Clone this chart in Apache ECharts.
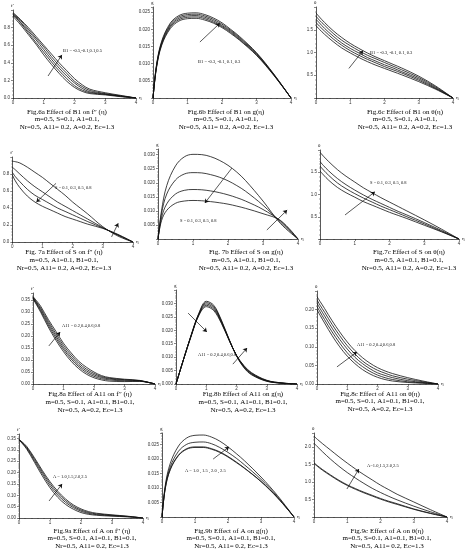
<!DOCTYPE html>
<html>
<head>
<meta charset="utf-8">
<script src="https://cdn.jsdelivr.net/npm/echarts@6/dist/echarts.min.js"></script>
<style>
  html, body { margin: 0; background: #fff; }
  #chart { width: 469px; height: 556px; }
</style>
</head>
<body>
<div id="chart"></div>
<script>
// similarity variable η, shared by every panel
const eta = [0, 0.1, 0.25, 0.5, 0.75, 1, 1.25, 1.5, 1.75, 2, 2.25, 2.5, 3, 3.5, 4];

// Fig 6 : effect of B1
const fig6a = [
  [0.97, 0.94, 0.89, 0.80, 0.70, 0.60, 0.50, 0.40, 0.31, 0.22, 0.15, 0.10, 0.06, 0.03, 0],
  [0.96, 0.93, 0.88, 0.78, 0.68, 0.58, 0.47, 0.37, 0.28, 0.19, 0.13, 0.085, 0.05, 0.025, 0],
  [0.95, 0.92, 0.86, 0.76, 0.66, 0.55, 0.44, 0.34, 0.25, 0.17, 0.11, 0.07, 0.045, 0.02, 0],
  [0.94, 0.91, 0.85, 0.74, 0.63, 0.52, 0.41, 0.31, 0.22, 0.14, 0.09, 0.06, 0.04, 0.02, 0],
  [0.93, 0.89, 0.83, 0.72, 0.61, 0.49, 0.38, 0.28, 0.19, 0.12, 0.075, 0.05, 0.035, 0.015, 0]
];
const fig6b = [
  [0, 0.0095, 0.0165, 0.0218, 0.0240, 0.0247, 0.0248, 0.0243, 0.0233, 0.0219, 0.0200, 0.0180, 0.0132, 0.0070, 0],
  [0, 0.0093, 0.0162, 0.0214, 0.0236, 0.0243, 0.0244, 0.0239, 0.0229, 0.0215, 0.0197, 0.0177, 0.0130, 0.0069, 0],
  [0, 0.0091, 0.0159, 0.0210, 0.0232, 0.0239, 0.0240, 0.0235, 0.0225, 0.0211, 0.0194, 0.0174, 0.0128, 0.0068, 0],
  [0, 0.0089, 0.0156, 0.0206, 0.0228, 0.0235, 0.0236, 0.0231, 0.0221, 0.0208, 0.0191, 0.0171, 0.0126, 0.0067, 0],
  [0, 0.0087, 0.0153, 0.0202, 0.0224, 0.0231, 0.0232, 0.0227, 0.0218, 0.0205, 0.0188, 0.0169, 0.0124, 0.0066, 0]
];
const fig6c = [
  [1.87, 1.78, 1.66, 1.48, 1.33, 1.20, 1.09, 0.99, 0.90, 0.82, 0.74, 0.66, 0.48, 0.26, 0],
  [1.80, 1.71, 1.60, 1.42, 1.27, 1.15, 1.04, 0.94, 0.86, 0.78, 0.70, 0.62, 0.45, 0.24, 0],
  [1.73, 1.65, 1.53, 1.36, 1.21, 1.09, 0.99, 0.89, 0.81, 0.73, 0.66, 0.58, 0.42, 0.22, 0],
  [1.66, 1.58, 1.47, 1.30, 1.16, 1.04, 0.94, 0.85, 0.77, 0.69, 0.62, 0.55, 0.39, 0.205, 0],
  [1.59, 1.51, 1.40, 1.24, 1.10, 0.99, 0.89, 0.80, 0.72, 0.65, 0.58, 0.51, 0.36, 0.19, 0]
];

// Fig 7 : effect of S
const fig7a = [
  [0.95, 0.945, 0.93, 0.88, 0.82, 0.76, 0.69, 0.62, 0.55, 0.47, 0.40, 0.33, 0.18, 0.07, 0],
  [0.88, 0.85, 0.80, 0.72, 0.65, 0.59, 0.53, 0.47, 0.42, 0.37, 0.32, 0.27, 0.17, 0.08, 0],
  [0.82, 0.77, 0.71, 0.62, 0.55, 0.50, 0.45, 0.40, 0.36, 0.32, 0.28, 0.24, 0.165, 0.085, 0],
  [0.79, 0.72, 0.64, 0.54, 0.47, 0.42, 0.38, 0.34, 0.30, 0.27, 0.24, 0.21, 0.16, 0.09, 0]
];
const fig7b = [
  [0, 0.0100, 0.0190, 0.0260, 0.0292, 0.0301, 0.0300, 0.0293, 0.0280, 0.0262, 0.0238, 0.0208, 0.0135, 0.0055, 0],
  [0, 0.0090, 0.0160, 0.0210, 0.0231, 0.0236, 0.0235, 0.0229, 0.0220, 0.0207, 0.0190, 0.0170, 0.0120, 0.0060, 0],
  [0, 0.0075, 0.0125, 0.0160, 0.0173, 0.0176, 0.0175, 0.0171, 0.0165, 0.0157, 0.0147, 0.0135, 0.0105, 0.0064, 0],
  [0, 0.0065, 0.0102, 0.0127, 0.0135, 0.0137, 0.0136, 0.0133, 0.0129, 0.0124, 0.0117, 0.0109, 0.0090, 0.0066, 0]
];
const fig7c = [
  [1.95, 1.86, 1.74, 1.56, 1.41, 1.28, 1.15, 1.04, 0.93, 0.83, 0.73, 0.63, 0.43, 0.22, 0],
  [1.74, 1.65, 1.53, 1.36, 1.22, 1.10, 0.99, 0.89, 0.80, 0.71, 0.62, 0.54, 0.37, 0.19, 0],
  [1.64, 1.55, 1.43, 1.26, 1.13, 1.02, 0.92, 0.83, 0.74, 0.66, 0.58, 0.50, 0.34, 0.17, 0],
  [1.53, 1.44, 1.32, 1.16, 1.04, 0.94, 0.84, 0.76, 0.68, 0.60, 0.53, 0.46, 0.31, 0.16, 0]
];

// Fig 8 : effect of A11
const fig8a = [
  [0.365, 0.350, 0.325, 0.270, 0.220, 0.170, 0.130, 0.095, 0.070, 0.050, 0.035, 0.027, 0.020, 0.015, 0],
  [0.362, 0.345, 0.318, 0.262, 0.210, 0.161, 0.121, 0.087, 0.062, 0.044, 0.031, 0.024, 0.018, 0.014, 0],
  [0.360, 0.342, 0.312, 0.254, 0.201, 0.152, 0.112, 0.079, 0.055, 0.038, 0.027, 0.021, 0.016, 0.013, 0],
  [0.358, 0.338, 0.306, 0.246, 0.192, 0.144, 0.104, 0.072, 0.048, 0.032, 0.022, 0.017, 0.013, 0.012, 0],
  [0.355, 0.334, 0.300, 0.238, 0.183, 0.135, 0.095, 0.064, 0.041, 0.026, 0.017, 0.012, 0.010, 0.011, 0]
];
const fig8b = [
  [0, 0.0037, 0.0092, 0.0182, 0.0262, 0.0308, 0.0293, 0.0238, 0.0168, 0.0105, 0.0060, 0.0034, 0.0010, 0.0003, 0],
  [0, 0.0037, 0.0092, 0.0181, 0.0260, 0.0303, 0.0288, 0.0235, 0.0167, 0.0105, 0.0062, 0.0036, 0.0011, 0.0003, 0],
  [0, 0.0037, 0.0092, 0.0180, 0.0258, 0.0298, 0.0283, 0.0232, 0.0166, 0.0106, 0.0064, 0.0038, 0.0012, 0.0003, 0],
  [0, 0.0037, 0.0092, 0.0179, 0.0256, 0.0293, 0.0278, 0.0229, 0.0165, 0.0106, 0.0066, 0.0040, 0.0013, 0.0004, 0],
  [0, 0.0037, 0.0092, 0.0178, 0.0254, 0.0288, 0.0273, 0.0226, 0.0164, 0.0107, 0.0068, 0.0042, 0.0014, 0.0004, 0]
];
const fig8c = [
  [0.235, 0.222, 0.203, 0.170, 0.140, 0.113, 0.090, 0.071, 0.056, 0.044, 0.035, 0.028, 0.017, 0.008, 0],
  [0.226, 0.212, 0.193, 0.160, 0.130, 0.103, 0.081, 0.062, 0.048, 0.037, 0.029, 0.022, 0.013, 0.006, 0],
  [0.217, 0.203, 0.183, 0.150, 0.120, 0.094, 0.072, 0.055, 0.041, 0.030, 0.023, 0.017, 0.009, 0.004, 0],
  [0.208, 0.194, 0.173, 0.140, 0.110, 0.084, 0.063, 0.047, 0.034, 0.024, 0.017, 0.012, 0.006, 0.003, 0],
  [0.200, 0.185, 0.164, 0.130, 0.100, 0.075, 0.055, 0.039, 0.027, 0.018, 0.012, 0.008, 0.004, 0.002, 0]
];

// Fig 9 : effect of A
const fig9a = [
  [0.345, 0.335, 0.315, 0.265, 0.210, 0.160, 0.118, 0.084, 0.058, 0.040, 0.028, 0.021, 0.014, 0.008, 0],
  [0.345, 0.333, 0.311, 0.259, 0.203, 0.152, 0.110, 0.077, 0.052, 0.035, 0.024, 0.018, 0.012, 0.007, 0],
  [0.345, 0.331, 0.307, 0.252, 0.195, 0.143, 0.101, 0.069, 0.046, 0.030, 0.020, 0.015, 0.010, 0.006, 0],
  [0.345, 0.329, 0.303, 0.245, 0.186, 0.133, 0.091, 0.060, 0.039, 0.024, 0.016, 0.012, 0.008, 0.005, 0]
];
const fig9b = [
  [0, 0.0110, 0.0185, 0.0245, 0.0273, 0.0282, 0.0283, 0.0276, 0.0262, 0.0242, 0.0219, 0.0194, 0.0138, 0.0074, 0],
  [0, 0.0104, 0.0173, 0.0227, 0.0251, 0.0258, 0.0259, 0.0253, 0.0240, 0.0223, 0.0203, 0.0180, 0.0130, 0.0070, 0],
  [0, 0.0100, 0.0165, 0.0214, 0.0236, 0.0242, 0.0242, 0.0236, 0.0225, 0.0209, 0.0190, 0.0169, 0.0123, 0.0067, 0],
  [0, 0.0099, 0.0163, 0.0212, 0.0234, 0.0240, 0.0240, 0.0234, 0.0223, 0.0207, 0.0188, 0.0168, 0.0122, 0.0066, 0]
];
const fig9c = [
  [2.31, 2.22, 2.10, 1.91, 1.72, 1.54, 1.37, 1.21, 1.06, 0.91, 0.78, 0.65, 0.43, 0.21, 0],
  [2.11, 2.01, 1.87, 1.65, 1.45, 1.27, 1.11, 0.96, 0.82, 0.70, 0.59, 0.49, 0.31, 0.15, 0],
  [1.55, 1.47, 1.36, 1.20, 1.05, 0.92, 0.81, 0.71, 0.62, 0.53, 0.45, 0.38, 0.23, 0.11, 0],
  [1.53, 1.45, 1.34, 1.18, 1.03, 0.90, 0.79, 0.69, 0.60, 0.51, 0.43, 0.36, 0.22, 0.10, 0]
];

const params6 = ['m=0.5, S=0.1, A1=0.1,', 'Nr=0.5, A11= 0.2, A=0.2, Ec=1.3'];
const params7 = ['m=0.5, A1=0.1, B1=0.1,', 'Nr=0.5, A11= 0.2, A=0.2, Ec=1.3'];
const params8 = ['m=0.5, S=0.1, A1=0.1, B1=0.1,', 'Nr=0.5, A=0.2, Ec=1.3'];
const params9 = ['m=0.5, S=0.1, A1=0.1, B1=0.1,', 'Nr=0.5, A11= 0.2, Ec=1.3'];

// layout of each small plot: box = [left, top, width, height]
const panels = [
  { curves: fig6a, box: [13, 10, 123, 88], ymax: 1.0, step: 0.2, dec: 1, showMin: true, yName: 'f′',
    note: 'B1 = -0.5,-0.1,0.1,0.5', noteAt: [63, 51], arrows: [[[1.14, 0.25], [1.59, 0.49]]],
    title: 'Fig.6a Effect of B1 on f′′ (η)', params: params6, cap: [67, 112] },
  { curves: fig6b, box: [153, 7, 138, 91], ymax: 0.0265, step: 0.005, dec: 3, showMin: false, yName: 'g',
    note: 'B1 = -0.3, -0.1, 0.1, 0.3', noteAt: [198, 62], arrows: [[[1.36, 0.0163], [1.94, 0.0218]]],
    title: 'Fig.6b Effect of B1 on g(η)', params: params6, cap: [226, 112] },
  { curves: fig6c, box: [316, 6, 137, 92], ymax: 2.0, step: 0.5, dec: 1, showMin: false, yName: 'θ',
    note: 'B1 = -0.3, -0.1, 0.1, 0.3', noteAt: [370, 53], arrows: [[[0.96, 0.65], [1.37, 1.04]]],
    title: 'Fig.6c Effect of B1 on θ(η)', params: params6, cap: [405, 112] },
  { curves: fig7a, box: [3, 157, 130, 85], ymax: 1.0, step: 0.2, dec: 1, showMin: true, yName: 'f′',
    note: 'S = 0.1, 0.3, 0.5, 0.8', noteAt: [55, 188],
    arrows: [[[1.45, 0.69], [0.80, 0.47]], [[3.29, 0.06], [3.51, 0.22]]],
    title: 'Fig. 7a Effect of S on f′′ (η)', params: params7, cap: [64, 252.5] },
  { curves: fig7b, box: [158, 149, 140, 90], ymax: 0.032, step: 0.005, dec: 3, showMin: false, yName: 'g',
    note: 'S = 0.1, 0.3, 0.5, 0.8', noteAt: [180, 221],
    arrows: [[[2.11, 0.0252], [1.34, 0.0128]], [[3.11, 0.0032], [3.69, 0.0103]]],
    title: 'Fig. 7b Effect of S on g(η)', params: params7, cap: [246, 252.5] },
  { curves: fig7c, box: [320, 150, 139, 89], ymax: 2.0, step: 0.5, dec: 1, showMin: false, yName: 'θ',
    note: 'S = 0.1, 0.3, 0.5, 0.8', noteAt: [370, 183], arrows: [[[0.72, 0.54], [1.58, 1.06]]],
    title: 'Fig.7c Effect of S on θ(η)', params: params7, cap: [409, 252.5] },
  { curves: fig8a, box: [33, 293, 122, 91], ymax: 0.38, step: 0.05, dec: 2, showMin: true, yName: 'f′',
    note: 'A11 = 0.2,0.4,0.6,0.8', noteAt: [62, 326], arrows: [[[0.52, 0.159], [0.89, 0.217]]],
    title: 'Fig.8a Effect of A11 on f′′ (η)', params: params8, cap: [90, 394.5] },
  { curves: fig8b, box: [176, 290, 121, 94], ymax: 0.035, step: 0.005, dec: 3, showMin: true, yName: 'g',
    note: 'A11 = 0.2,0.4,0.6,0.8', noteAt: [198, 355],
    arrows: [[[0.40, 0.0264], [1.02, 0.0194]], [[1.88, 0.0074], [2.35, 0.0134]]],
    title: 'Fig.8b Effect of A11 on g(η)', params: params8, cap: [243, 394.5] },
  { curves: fig8c, box: [317, 291, 121, 93], ymax: 0.25, step: 0.05, dec: 2, showMin: true, yName: 'θ',
    note: 'A11 = 0.2,0.4,0.6,0.8', noteAt: [357, 345], arrows: [[[0.66, 0.046], [1.32, 0.086]]],
    title: 'Fig.8c Effect of A11 on θ(η)', params: params8, cap: [380, 394] },
  { curves: fig9a, box: [19, 434, 124, 84], ymax: 0.37, step: 0.05, dec: 2, showMin: true, yName: 'f′',
    note: 'A = 1.0,1.5,2.0,2.5', noteAt: [53, 477], arrows: [[[0.97, 0.075], [1.39, 0.150]]],
    title: 'Fig.9a Effect of A on f′′ (η)', params: params9, cap: [92, 531] },
  { curves: fig9b, box: [162, 433, 132, 84], ymax: 0.029, step: 0.005, dec: 3, showMin: false, yName: 'g',
    note: 'A = 1.0 , 1.5 , 2.0 , 2.5', noteAt: [185, 471], arrows: [[[1.55, 0.020], [2.03, 0.0242]]],
    title: 'Fig.9b Effect of A on g(η)', params: params9, cap: [231, 531] },
  { curves: fig9c, box: [314, 433, 133, 84], ymax: 2.4, step: 0.5, dec: 1, showMin: false, yName: 'θ',
    note: 'A=1.0,1.5,2.0,2.5', noteAt: [367, 466], arrows: [[[0.99, 0.80], [1.35, 1.37]]],
    title: 'Fig.9c Effect of A on θ(η)', params: params9, cap: [387, 531] }
];

const ink = '#111';
const serif = '"Liberation Serif", "DejaVu Serif", serif';

const grid = [], xAxis = [], yAxis = [], series = [], graphic = [];

panels.forEach((p, i) => {
  const [left, top, width, height] = p.box;
  grid.push({ left: left, top: top, width: width, height: height });
  xAxis.push({
    type: 'value', gridIndex: i, min: 0, max: 4, interval: 1,
    name: 'η', nameGap: 3, nameTextStyle: { fontSize: 5, color: ink, fontFamily: serif },
    axisLine: { lineStyle: { color: ink, width: 0.7 } },
    axisTick: { length: 2, lineStyle: { color: ink, width: 0.5 } },
    minorTick: { show: true, splitNumber: 5, length: 1, lineStyle: { color: ink, width: 0.4 } },
    axisLabel: { fontSize: 4.5, color: '#333', margin: 2.5 },
    splitLine: { show: false }
  });
  yAxis.push({
    type: 'value', gridIndex: i, min: 0, max: p.ymax, interval: p.step,
    name: p.yName, nameGap: 2, nameLocation: 'end',
    nameTextStyle: { fontSize: 5, color: ink, fontFamily: serif, align: 'left', padding: [0, 0, 0, -2] },
    axisLine: { show: true, lineStyle: { color: ink, width: 0.7 } },
    axisTick: { show: true, length: 2, lineStyle: { color: ink, width: 0.5 } },
    minorTick: { show: true, splitNumber: 5, length: 1, lineStyle: { color: ink, width: 0.4 } },
    axisLabel: {
      fontSize: 4.5, color: '#333', margin: 3, showMaxLabel: false, showMinLabel: p.showMin,
      formatter: v => v.toFixed(p.dec)
    },
    splitLine: { show: false }
  });
  p.curves.forEach((vals, k) => {
    const s = {
      type: 'line', xAxisIndex: i, yAxisIndex: i, smooth: 0.35, showSymbol: false,
      silent: true, lineStyle: { color: ink, width: 0.8 },
      data: eta.map((e, j) => [e, vals[j]])
    };
    if (k === 0) {
      s.markLine = {
        silent: true, symbol: ['none', 'arrow'], symbolSize: 4,
        lineStyle: { color: ink, width: 0.7, type: 'solid' },
        label: { show: false },
        data: p.arrows.map(a => [{ coord: a[0] }, { coord: a[1] }])
      };
    }
    series.push(s);
  });
  graphic.push({
    type: 'text', left: p.noteAt[0], top: p.noteAt[1] - 2.5,
    style: { text: p.note, fontSize: 4.5, fill: ink, fontFamily: serif }
  });
  [p.title].concat(p.params).forEach((line, k) => {
    graphic.push({
      type: 'text', x: p.cap[0], y: p.cap[1] + k * 7.6,
      style: { text: line, fontSize: 7, fill: '#000', fontFamily: serif,
               textAlign: 'center', textVerticalAlign: 'middle' }
    });
  });
});

const myChart = echarts.init(document.getElementById('chart'));
myChart.setOption({
  backgroundColor: '#fff',
  animation: false,
  grid: grid,
  xAxis: xAxis,
  yAxis: yAxis,
  series: series,
  graphic: graphic
});
</script>
</body>
</html>
